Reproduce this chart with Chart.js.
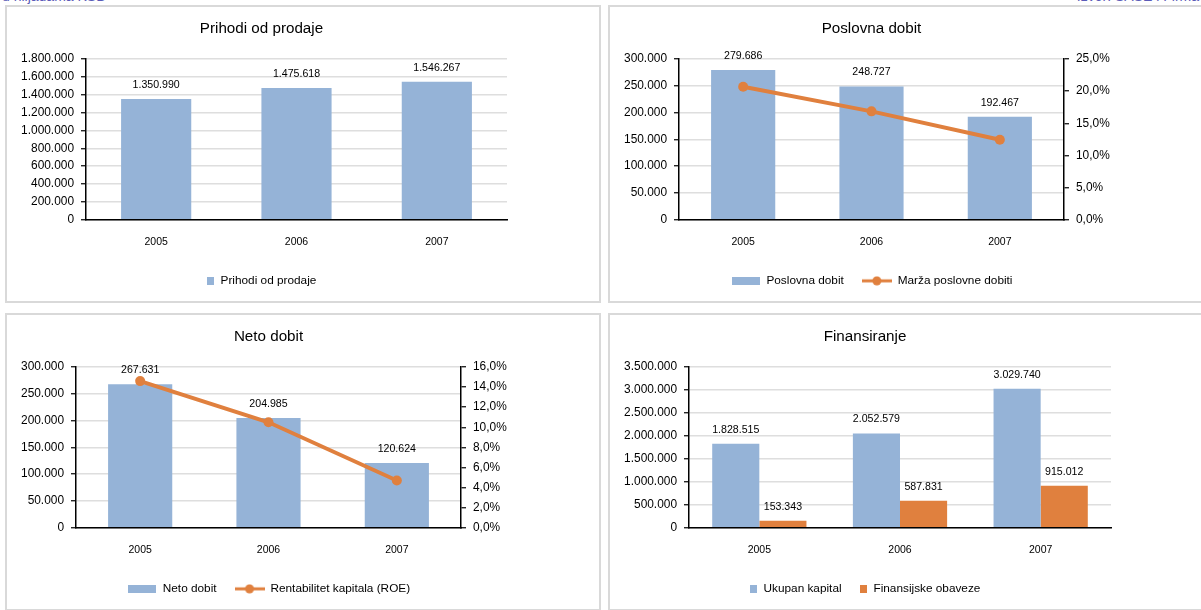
<!DOCTYPE html>
<html>
<head>
<meta charset="utf-8">
<script src="https://cdn.jsdelivr.net/npm/chart.js@4.4.1/dist/chart.umd.min.js"></script>
<style>
body { margin: 0; width: 1201px; height: 610px; overflow: hidden; background: #fff; position: relative;
       font-family: 'Liberation Sans', sans-serif; }
.panel { position: absolute; box-sizing: border-box; border: 2px solid #d9d9d9; background: #fff; }
.panel .box { position: absolute; left: 0; top: 0; right: 0; bottom: 0; }
.note { position: absolute; top: -12px; font-size: 14px; color: #5b5bb8; }
</style>
</head>
<body>
<div class="note" style="left:2px">u hiljadama KSB</div>
<div class="note" style="right:2px">Izvor: SASE i Firma</div>

<div class="panel" style="left:5px;top:5px;width:596px;height:298px"><div class="box"><canvas id="c1"></canvas></div></div>
<div class="panel" style="left:608px;top:5px;width:600px;height:298px"><div class="box"><canvas id="c2"></canvas></div></div>
<div class="panel" style="left:5px;top:313px;width:596px;height:298px"><div class="box"><canvas id="c3"></canvas></div></div>
<div class="panel" style="left:608px;top:313px;width:600px;height:298px"><div class="box"><canvas id="c4"></canvas></div></div>

<script>
// podaci (u hiljadama KSB)
var godine = ["2005", "2006", "2007"];
var prihodi = [1350990, 1475618, 1546267];
var poslovnaDobit = [279686, 248727, 192467];
var marzaDobiti = [0.207, 0.1686, 0.1245];
var netoDobit = [267631, 204985, 120624];
var roe = [0.146, 0.105, 0.047];
var ukupanKapital = [1828515, 2052579, 3029740];
var finObaveze = [153343, 587831, 915012];

// podjele osa
var tickPrihodi = [0, 200000, 400000, 600000, 800000, 1000000, 1200000, 1400000, 1600000, 1800000];
var tickDobit = [0, 50000, 100000, 150000, 200000, 250000, 300000];
var tickMarza = [0, 0.05, 0.10, 0.15, 0.20, 0.25];
var tickRoe = [0, 0.02, 0.04, 0.06, 0.08, 0.10, 0.12, 0.14, 0.16];
var tickFin = [0, 500000, 1000000, 1500000, 2000000, 2500000, 3000000, 3500000];

var PLAVA = "#95b3d7";
var NARANDZASTA = "#e0803e";
var FONT = "'Liberation Sans', sans-serif";

Chart.defaults.font.family = FONT;
Chart.defaults.color = "#000";
Chart.defaults.animation = false;

function tacke(v) {
    return String(Math.round(v)).replace(/\B(?=(\d{3})+(?!\d))/g, ".");
}
function procenat(v) {
    return (v * 100).toFixed(1).replace(".", ",") + "%";
}

// vrijednosti iznad stubaca
var oznakeVrijednosti = {
    id: "oznake",
    afterDatasetsDraw: function (chart) {
        var ctx = chart.ctx;
        ctx.save();
        ctx.font = "10.6px " + FONT;
        ctx.fillStyle = "#000";
        ctx.textAlign = "center";
        ctx.textBaseline = "middle";
        chart.data.datasets.forEach(function (ds, i) {
            if (ds.type === "line") return;
            chart.getDatasetMeta(i).data.forEach(function (el, j) {
                ctx.fillText(tacke(ds.data[j]), el.x, el.y - 14);
            });
        });
        ctx.restore();
    }
};

// slicice za legendu
function pravougaonik(w, h, boja) {
    var c = document.createElement("canvas");
    c.width = w; c.height = h;
    var g = c.getContext("2d");
    g.fillStyle = boja;
    g.fillRect(0, 0, w, h);
    return c;
}
function linijaTacka(boja) {
    var c = document.createElement("canvas");
    c.width = 30; c.height = 10;
    var g = c.getContext("2d");
    g.fillStyle = boja;
    g.fillRect(0, 3.5, 30, 3);
    g.beginPath();
    g.arc(15, 5, 4.5, 0, Math.PI * 2);
    g.fill();
    return c;
}

function osaY(ticks, fmt, pozicija, crtajMrezu) {
    return {
        position: pozicija,
        min: ticks[0],
        max: ticks[ticks.length - 1],
        afterBuildTicks: function (s) {
            s.ticks = ticks.map(function (v) { return { value: v }; });
        },
        afterFit: function (s) { s.width = 70; },
        grid: {
            color: "#dedede", lineWidth: 1.5, tickColor: "#000", tickWidth: 1.2,
            tickLength: 5, drawOnChartArea: crtajMrezu
        },
        border: { color: "#000", width: 1.5 },
        ticks: { padding: 7, autoSkip: false, font: { size: 11.9 },
                 callback: function (v) { return fmt(v); } }
    };
}

var osaX = {
    grid: { drawOnChartArea: false, drawTicks: false },
    border: { color: "#000", width: 1.5 },
    ticks: { padding: 16, font: { size: 10.5 } },
    afterFit: function (s) { s.height = 37.25; }
};

function opcije(naslov, stavke, sirinaSlicice, padLijevo, padDesno) {
    return {
        responsive: true,
        maintainAspectRatio: false,
        layout: { padding: { top: 13, bottom: 4.25, left: padLijevo, right: padDesno } },
        plugins: {
            tooltip: { enabled: false },
            title: {
                display: true, text: naslov, color: "#000",
                font: { size: 15.2, weight: "normal" },
                padding: { top: 0, bottom: 20.8 }
            },
            legend: {
                position: "bottom",
                labels: {
                    usePointStyle: true, pointStyleWidth: sirinaSlicice, boxHeight: 8,
                    padding: 18, font: { size: 11.8 }, color: "#000",
                    generateLabels: function () { return stavke; }
                }
            }
        }
    };
}

function stavka(tekst, slika, i) {
    return { text: tekst, pointStyle: slika, fillStyle: "transparent", strokeStyle: "transparent",
             lineWidth: 0, hidden: false, datasetIndex: i, fontColor: "#000" };
}

function linija(naziv, podaci) {
    return { type: "line", label: naziv, data: podaci, yAxisID: "y2",
             borderColor: NARANDZASTA, backgroundColor: NARANDZASTA, borderWidth: 4,
             pointRadius: 5, pointBorderWidth: 0, pointBackgroundColor: NARANDZASTA, order: 1 };
}

// 1. Prihodi od prodaje
var o1 = opcije("Prihodi od prodaje", [stavka("Prihodi od prodaje", pravougaonik(7, 8, PLAVA), 0)], 8, 9, 92);
o1.scales = { x: osaX, y: osaY(tickPrihodi, tacke, "left", true) };
new Chart(document.getElementById("c1"), {
    type: "bar",
    data: {
        labels: godine,
        datasets: [{ label: "Prihodi od prodaje", data: prihodi, backgroundColor: PLAVA,
                     categoryPercentage: 0.5, barPercentage: 1 }]
    },
    options: o1,
    plugins: [oznakeVrijednosti]
});

// 2. Poslovna dobit
var o2 = opcije("Poslovna dobit", [
    stavka("Poslovna dobit", pravougaonik(28, 8, PLAVA), 0),
    stavka("Marža poslovne dobiti", linijaTacka(NARANDZASTA), 1)
], 30, -1, 72);
o2.scales = { x: osaX, y: osaY(tickDobit, tacke, "left", true), y2: osaY(tickMarza, procenat, "right", false) };
new Chart(document.getElementById("c2"), {
    type: "bar",
    data: {
        labels: godine,
        datasets: [
            { label: "Poslovna dobit", data: poslovnaDobit, backgroundColor: PLAVA,
              categoryPercentage: 0.5, barPercentage: 1, order: 2 },
            linija("Marža poslovne dobiti", marzaDobiti)
        ]
    },
    options: o2,
    plugins: [oznakeVrijednosti]
});

// 3. Neto dobit
var o3 = opcije("Neto dobit", [
    stavka("Neto dobit", pravougaonik(28, 8, PLAVA), 0),
    stavka("Rentabilitet kapitala (ROE)", linijaTacka(NARANDZASTA), 1)
], 30, -1, 68);
o3.scales = { x: osaX, y: osaY(tickDobit, tacke, "left", true), y2: osaY(tickRoe, procenat, "right", false) };
new Chart(document.getElementById("c3"), {
    type: "bar",
    data: {
        labels: godine,
        datasets: [
            { label: "Neto dobit", data: netoDobit, backgroundColor: PLAVA,
              categoryPercentage: 0.5, barPercentage: 1, order: 2 },
            linija("Rentabilitet kapitala (ROE)", roe)
        ]
    },
    options: o3,
    plugins: [oznakeVrijednosti]
});

// 4. Finansiranje
var o4 = opcije("Finansiranje", [
    stavka("Ukupan kapital", pravougaonik(7, 8, PLAVA), 0),
    stavka("Finansijske obaveze", pravougaonik(7, 8, NARANDZASTA), 1)
], 8, 9, 95);
o4.scales = { x: osaX, y: osaY(tickFin, tacke, "left", true) };
new Chart(document.getElementById("c4"), {
    type: "bar",
    data: {
        labels: godine,
        datasets: [
            { label: "Ukupan kapital", data: ukupanKapital, backgroundColor: PLAVA,
              categoryPercentage: 0.67, barPercentage: 1 },
            { label: "Finansijske obaveze", data: finObaveze, backgroundColor: NARANDZASTA,
              categoryPercentage: 0.67, barPercentage: 1 }
        ]
    },
    options: o4,
    plugins: [oznakeVrijednosti]
});
</script>
</body>
</html>
